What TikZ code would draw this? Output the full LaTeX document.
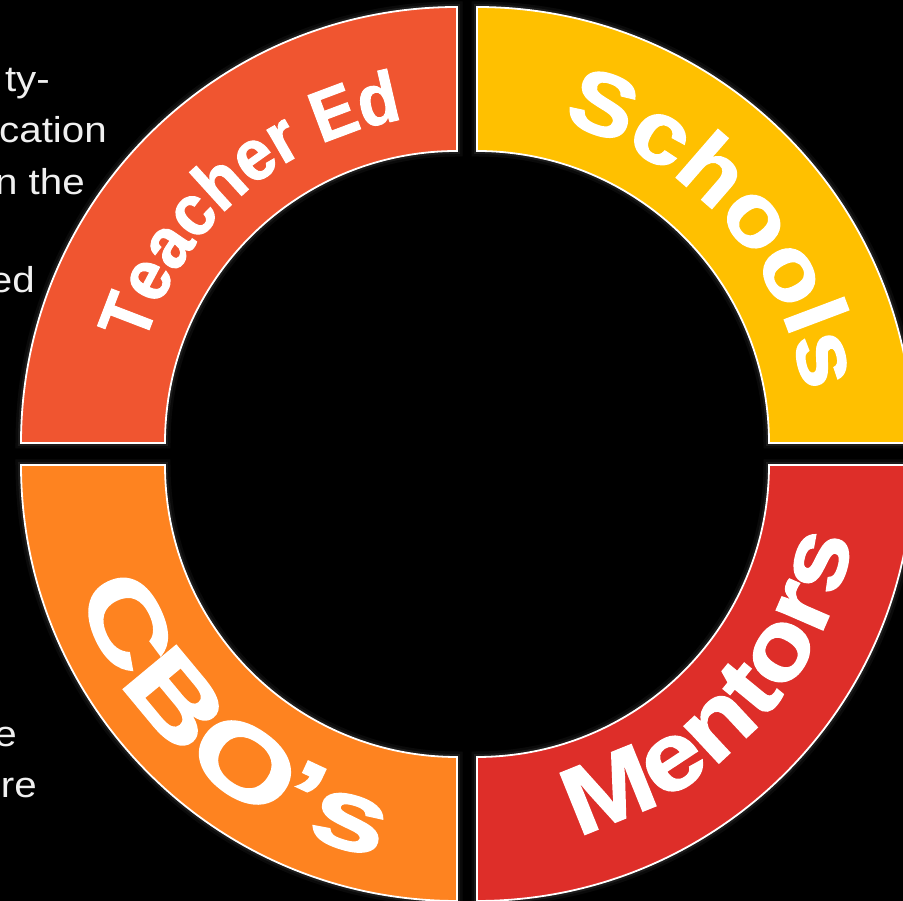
\documentclass[tikz,border=0pt]{standalone}
\usepackage{fontspec}
\setmainfont{Liberation Sans}
\newfontfamily\lineFont[FakeStretch=1.12]{Liberation Sans}
\newfontfamily\teacherfont[FakeStretch=0.93,FakeBold=1.5]{Liberation Sans}
\newfontfamily\schoolsfont[FakeStretch=1.12,FakeBold=1.5]{Liberation Sans}
\newfontfamily\mentorsfont[FakeStretch=1.14,FakeBold=1.5]{Liberation Sans}
\newfontfamily\cbosfont[FakeStretch=1.38,FakeBold=1.5]{Liberation Sans}
\usetikzlibrary{decorations.text}
\definecolor{teacherCol}{RGB}{240,85,48}
\definecolor{schoolsCol}{RGB}{255,192,0}
\definecolor{mentorsCol}{RGB}{222,46,41}
\definecolor{cbosCol}{RGB}{254,131,32}

\begin{document}
\begin{tikzpicture}
[x=1pt,y=1pt,
ringPiece/.style={draw=white,line width=1.8pt,
preaction={draw=white,line width=11pt,opacity=0.04},
preaction={draw=white,line width=6pt,opacity=0.07}},
leftLine/.style={anchor=base east,inner sep=0pt,text=gray!12,
font=\lineFont\fontsize{36pt}{36pt}\selectfont}]
  \useasboundingbox (0,0) rectangle (903,901);
  \fill[black] (0,0) rectangle (903,901);
  \node[leftLine] (firstOFline)  at (50,809) {ty-};
  \node[leftLine] (secondOFline) at (107,758) {cation};
  \node[leftLine] (thirdOFline)  at (85,706) {n the};
  \node[leftLine] (fourthOFline) at (35,608) {ed};
  \node[leftLine] (fifthOFline)  at (17,154) {e};
  \node[leftLine] (sixthOFline)  at (37,103) {re};
  \coordinate (teacherOFring) at (457,458);
  \coordinate (schoolsOFring) at (477,458);
  \coordinate (mentorsOFring) at (477,436);
  \coordinate (cbosOFring)    at (457,436);
  \foreach \corner/\start/\col in {teacherOFring/90/teacherCol,schoolsOFring/0/schoolsCol,
      mentorsOFring/270/mentorsCol,cbosOFring/180/cbosCol}
    \draw[ringPiece,fill=\col] (\corner) ++(\start:292)
      arc[start angle=\start,delta angle=90,radius=292] -- ++(\start+90:144)
      arc[start angle=\start+90,delta angle=-90,radius=436] -- cycle;
  \path[shift={(teacherOFring)},decorate,decoration={text along path,text align=center,
    text={|\teacherfont\bfseries\fontsize{72pt}{72pt}\selectfont\color{white}|Teacher Ed}}]
    (171:328) arc[start angle=171,end angle=91,radius=328];
  \path[shift={(schoolsOFring)},decorate,decoration={text along path,text align=center,
    text={|\schoolsfont\bfseries\fontsize{88pt}{88pt}\selectfont\color{white}|Schools}}]
    (82:331) arc[start angle=82,end angle=2,radius=331];
  \path[shift={(mentorsOFring)},decorate,decoration={text along path,text align=center,
    text={|\mentorsfont\bfseries\fontsize{96pt}{96pt}\selectfont\color{white}|Mentors}}]
    (280:383) arc[start angle=280,end angle=354,radius=383];
  \path[shift={(cbosOFring)},decorate,decoration={text along path,text align=center,
    text={|\cbosfont\bfseries\fontsize{100pt}{100pt}\selectfont\color{white}|CBO’s}}]
    (193:400) arc[start angle=193,end angle=264,radius=400];
\end{tikzpicture}
\end{document}
